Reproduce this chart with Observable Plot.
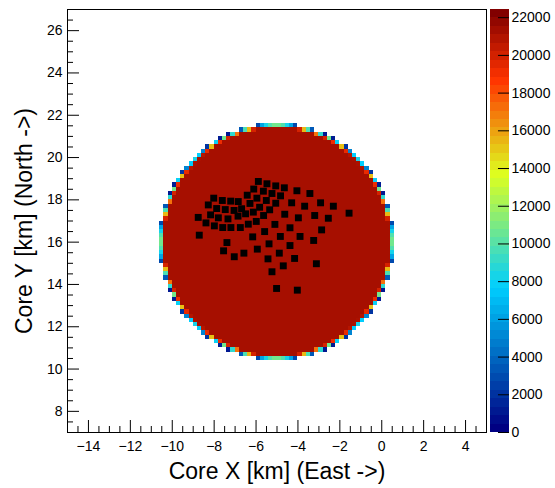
<!DOCTYPE html>
<html><head><meta charset="utf-8">
<script src="https://cdn.jsdelivr.net/npm/d3@7"></script>
<script src="https://cdn.jsdelivr.net/npm/@observablehq/plot@0.6"></script>
<style>
body{margin:0;background:#fff;}
#wrap{position:relative;width:555px;height:488px;background:#fff;}
#wrap svg{position:absolute;top:0;}
</style></head><body><div id="wrap"></div>
<script>
// ---- data ----
const xTicks = [-14,-12,-10,-8,-6,-4,-2,0,2,4];
const yTicks = [8,10,12,14,16,18,20,22,24,26];
const zTicks = [0,2000,4000,6000,8000,10000,12000,14000,16000,18000,20000,22000];
const stationX = [-5.89,-5.48,-5.06,-4.65,-4.05,-3.43,-6.11,-5.65,-5.24,-4.83,
  -6.42,-5.96,-5.51,-5.06,-6.29,-5.83,-5.35,-4.30,-3.68,-2.92,
  -2.31,-8.02,-7.61,-7.21,-6.85,-8.28,-7.88,-7.47,-7.05,-6.69,
  -6.50,-6.86,-6.13,-5.64,-4.63,-3.98,-3.20,-2.55,-1.56,-8.76,
  -8.17,-7.80,-7.34,-8.39,-7.99,-7.59,-7.20,-6.75,-6.37,-5.99,
  -5.10,-4.38,-2.87,-8.71,-6.16,-5.59,-4.84,-3.90,-3.25,-7.39,
  -5.38,-4.38,-7.55,-5.94,-4.89,-6.58,-7.04,-5.43,-4.16,-4.70,
  -3.12,-5.24,-5.02,-4.03];
const stationY = [18.87,18.76,18.66,18.57,18.43,18.30,18.51,18.41,18.30,18.19,
  18.22,18.08,17.97,17.84,17.83,17.65,17.53,17.86,17.70,17.86,
  17.70,18.08,17.97,17.94,17.92,17.76,17.59,17.54,17.50,17.58,
  17.34,17.23,17.42,17.26,17.32,17.15,17.26,17.13,17.37,17.17,
  17.29,17.15,17.10,16.91,16.77,16.69,16.69,16.69,16.85,16.98,
  16.84,16.68,16.58,16.33,16.25,16.50,16.27,16.27,16.08,15.98,
  15.92,15.84,15.59,15.67,15.48,15.48,15.31,15.21,15.23,14.88,
  14.98,14.60,13.81,13.73];
// simulated core area: disk, binned in 0.2 km cells
const diskCenterX = -5.0, diskCenterY = 16.0, diskRadius = 5.5;
const binWidth = 0.2, nBins = 100, xMin = -15, yMin = 7;
const fullBinCount = 21400;   // entries per fully covered bin
const zMax = 22434;           // colour axis maximum
const paletteStops = [0, 0.34, 0.61, 0.84, 1];
const paletteColors = ["rgb(0,0,130)","rgb(0,207,255)","rgb(222,255,31)","rgb(255,51,0)","rgb(130,0,0)"];

// ---- histogram cells (bin content = disk area covered by the bin) ----
const cells = [];
const nSub = 12;
for (let i = 0; i < nBins; i++) {
  const x0 = xMin + i*binWidth;
  if (x0 + binWidth < diskCenterX - diskRadius || x0 > diskCenterX + diskRadius) continue;
  for (let j = 0; j < nBins; j++) {
    const y0 = yMin + j*binWidth;
    if (y0 + binWidth < diskCenterY - diskRadius || y0 > diskCenterY + diskRadius) continue;
    let inside = 0;
    for (let a = 0; a < nSub; a++) for (let b = 0; b < nSub; b++) {
      const px = x0 + (a+0.5)/nSub*binWidth - diskCenterX;
      const py = y0 + (b+0.5)/nSub*binWidth - diskCenterY;
      if (px*px + py*py <= diskRadius*diskRadius) inside++;
    }
    if (inside > 0) cells.push({x1: x0, x2: x0+binWidth, y1: y0, y2: y0+binWidth, v: fullBinCount*inside/(nSub*nSub)});
  }
}
const stations = stationX.map((x,k) => ({x, y: stationY[k]}));

// ---- layout ----
const W = 555, H = 488, mL = 67, mR = 69, mT = 9, mB = 56;
const innerW = W - mL - mR, innerH = H - mT - mB;
const font = "'Liberation Sans', Arial, Helvetica, sans-serif";
const minus = d => d < 0 ? "\u2212" + (-d) : String(d);
const colorOpt = {type: "linear", domain: paletteStops.map(s => s*zMax), range: paletteColors, interpolate: "rgb"};
const minorX = d3.range(-15, 5.001, 0.5).filter(v => !xTicks.includes(v));
const minorY = d3.range(7, 27.001, 0.5).filter(v => !yTicks.includes(v));

const main = Plot.plot({
  width: W, height: H,
  marginLeft: mL, marginRight: mR, marginTop: mT, marginBottom: mB,
  style: {fontFamily: font, fontSize: "14px", background: "transparent", overflow: "visible"},
  x: {domain: [-15, 5]},
  y: {domain: [7, 27]},
  color: colorOpt,
  marks: [
    Plot.rect(cells, {x1: "x1", x2: "x2", y1: "y1", y2: "y2", fill: "v", shapeRendering: "crispEdges"}),
    Plot.dot(stations, {x: "x", y: "y", symbol: "square", r: 3.9, fill: "black", stroke: "none"}),
    Plot.tickX(xTicks, {x: d => d, stroke: "black", insetTop: innerH - 12}),
    Plot.tickX(minorX, {x: d => d, stroke: "black", insetTop: innerH - 6}),
    Plot.tickY(yTicks, {y: d => d, stroke: "black", insetRight: innerW - 12}),
    Plot.tickY(minorY, {y: d => d, stroke: "black", insetRight: innerW - 6}),
    Plot.frame({stroke: "black"}),
    Plot.axisX(xTicks, {tickSize: 0, tickPadding: 9, tickFormat: minus, fontSize: 14, label: null, fill: "black"}),
    Plot.axisY(yTicks, {tickSize: 0, tickPadding: 5, tickFormat: minus, fontSize: 14, label: null, fill: "black"}),
    Plot.text(["Core X [km] (East ->)"], {frameAnchor: "bottom", dy: 46, lineAnchor: "bottom", textAnchor: "middle", fontSize: 23, fill: "black"}),
    Plot.text(["Core Y [km] (North ->)"], {frameAnchor: "left", dx: -35.5, rotate: -90, lineAnchor: "bottom", textAnchor: "middle", fontSize: 23, fill: "black"})
  ]
});

// ---- colour bar ----
const nColors = 50;
const bands = d3.range(nColors).map(i => ({y1: i*zMax/nColors, y2: (i+1)*zMax/nColors, v: i/(nColors-1)*zMax}));
const bar = Plot.plot({
  width: 65, height: H,
  marginLeft: 0, marginRight: 46, marginTop: mT, marginBottom: mB,
  style: {fontFamily: font, fontSize: "14px", background: "transparent", overflow: "visible"},
  x: {domain: [0, 1], axis: null},
  y: {domain: [0, zMax], axis: null},
  color: colorOpt,
  marks: [
    Plot.rect(bands, {x1: 0, x2: 1, y1: "y1", y2: "y2", fill: "v", shapeRendering: "crispEdges"}),
    Plot.ruleY(zTicks, {y: d => d, x1: 0.42, x2: 1, stroke: "black"}),
    Plot.text(zTicks, {y: d => d, frameAnchor: "right", dx: 2, textAnchor: "start", text: d => String(d), fontSize: 14, fill: "black"})
  ]
});
bar.style.left = "490px";
const wrap = document.getElementById("wrap");
wrap.appendChild(main);
wrap.appendChild(bar);
</script></body></html>
